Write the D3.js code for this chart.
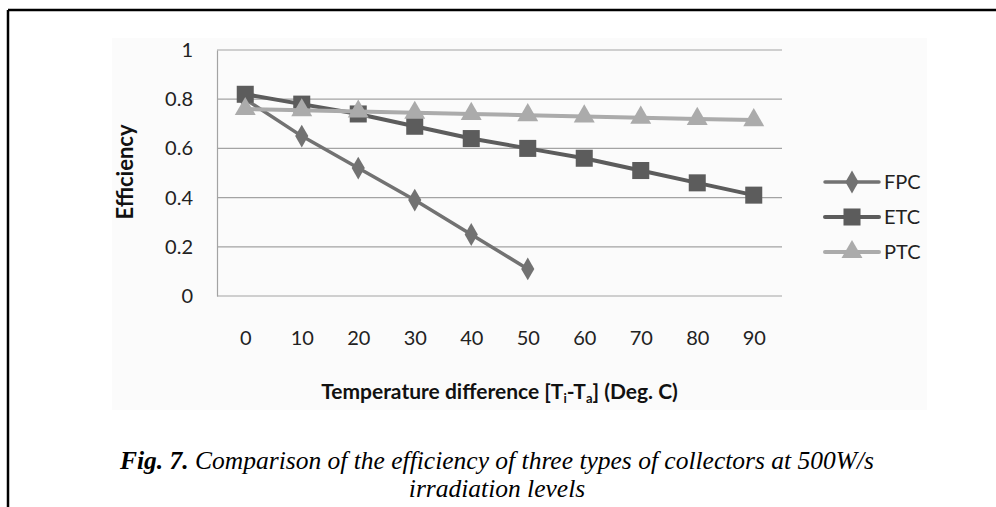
<!DOCTYPE html>
<html>
<head>
<meta charset="utf-8">
<script src="https://cdn.jsdelivr.net/npm/d3@7"></script>
<style>
  html, body { margin: 0; padding: 0; background: #fff; }
  svg { display: block; }
</style>
</head>
<body>
<svg id="chart" width="996" height="507"></svg>
<script>
// ---- data ----
const categories = [0, 10, 20, 30, 40, 50, 60, 70, 80, 90];
const fpcValues = [0.80, 0.65, 0.52, 0.39, 0.25, 0.11];
const etcValues = [0.82, 0.78, 0.74, 0.69, 0.64, 0.60, 0.56, 0.51, 0.46, 0.41];
const ptcValues = [0.76, 0.755, 0.75, 0.745, 0.74, 0.735, 0.73, 0.725, 0.72, 0.715];
const yTicks = [0, 0.2, 0.4, 0.6, 0.8, 1];
const seriesNames = ["FPC", "ETC", "PTC"];

const svg = d3.select("#chart");
const W = 996, H = 507;
const plot = { left: 217, right: 782, top: 50, bottom: 296 };
const sansFont = "Lato, 'Open Sans', 'DejaVu Sans', sans-serif";
const serifFont = "'Liberation Serif', 'DejaVu Serif', serif";

// page frame (top and left rules)
svg.append("line").attr("x1", 8).attr("x2", W).attr("y1", 10).attr("y2", 10)
  .attr("stroke", "#000").attr("stroke-width", 2.5);
svg.append("line").attr("x1", 8).attr("x2", 8).attr("y1", 10).attr("y2", H)
  .attr("stroke", "#000").attr("stroke-width", 2.5);

// chart area background
svg.append("rect").attr("x", 112).attr("y", 38).attr("width", 815).attr("height", 372)
  .attr("fill", "#fbfbfb");

const x = d3.scalePoint().domain(categories).range([plot.left, plot.right]).padding(0.5);
const y = d3.scaleLinear().domain([0, 1]).range([plot.bottom, plot.top]);

// gridlines
svg.append("g").selectAll("line").data(yTicks).join("line")
  .attr("x1", plot.left).attr("x2", plot.right)
  .attr("y1", d => y(d)).attr("y2", d => y(d))
  .attr("stroke", "#a3a3a3").attr("stroke-width", 1.2);

// y axis
const yAxis = d3.axisLeft(y).tickValues(yTicks).tickSize(0).tickPadding(24)
  .tickFormat(d => d3.format("~g")(d));
const gy = svg.append("g").attr("transform", `translate(${plot.left},0)`).call(yAxis);
gy.select(".domain").attr("stroke", "#a3a3a3").attr("stroke-width", 1.2);
gy.selectAll("text").attr("font-family", sansFont).attr("font-size", 20).attr("fill", "#222");

// x axis
const xAxis = d3.axisBottom(x).tickSize(0).tickPadding(35);
const gx = svg.append("g").attr("transform", `translate(0,${plot.bottom})`).call(xAxis);
gx.select(".domain").remove();
gx.selectAll("text").attr("font-family", sansFont).attr("font-size", 20).attr("fill", "#222");

// axis titles
svg.append("text").attr("transform", "translate(133,172) rotate(-90)")
  .attr("text-anchor", "middle").attr("font-family", sansFont).attr("font-weight", "bold")
  .attr("font-size", 22).attr("fill", "#111").text("Efficiency");

const xt = svg.append("text").attr("x", (plot.left + plot.right) / 2).attr("y", 399)
  .attr("text-anchor", "middle").attr("font-family", sansFont).attr("font-weight", "bold")
  .attr("font-size", 21).attr("fill", "#111");
xt.append("tspan").text("Temperature difference [T");
xt.append("tspan").attr("font-size", 13).attr("dy", 4).text("i");
xt.append("tspan").attr("dy", -4).text("-T");
xt.append("tspan").attr("font-size", 13).attr("dy", 4).text("a");
xt.append("tspan").attr("dy", -4).text("] (Deg. C)");

// series
const series = [
  { name: "FPC", values: fpcValues, color: "#727272", width: 3.5, marker: d3.symbolDiamond, size: 150 },
  { name: "ETC", values: etcValues, color: "#5c5c5c", width: 4, marker: d3.symbolSquare, size: 290 },
  { name: "PTC", values: ptcValues, color: "#ababab", width: 4, marker: d3.symbolTriangle, size: 190 }
];

const line = d3.line().x((d, i) => x(categories[i])).y(d => y(d));

series.forEach(s => {
  const g = svg.append("g");
  g.append("path").datum(s.values).attr("d", line)
    .attr("fill", "none").attr("stroke", s.color).attr("stroke-width", s.width)
    .attr("stroke-linejoin", "round");
  g.selectAll("path.m").data(s.values).join("path").attr("class", "m")
    .attr("transform", (d, i) => `translate(${x(categories[i])},${y(d)})`)
    .attr("d", d3.symbol().type(s.marker).size(s.size))
    .attr("fill", s.color);
});

// legend
const legendY = [182, 217, 252];
series.forEach((s, i) => {
  const g = svg.append("g").attr("transform", `translate(825,${legendY[i]})`);
  g.append("line").attr("x1", 0).attr("x2", 54).attr("stroke", s.color)
    .attr("stroke-width", s.width).attr("stroke-linecap", "round");
  g.append("path").attr("transform", "translate(27,0)")
    .attr("d", d3.symbol().type(s.marker).size(s.size)).attr("fill", s.color);
  g.append("text").attr("x", 59).attr("dy", "0.36em").attr("font-family", sansFont)
    .attr("font-size", 20).attr("fill", "#222").text(seriesNames[i]);
});

// caption
const cap = svg.append("text").attr("x", 497).attr("y", 469).attr("text-anchor", "middle")
  .attr("font-family", serifFont).attr("font-style", "italic").attr("font-size", 25.5).attr("fill", "#000");
cap.append("tspan").attr("font-weight", "bold").text("Fig. 7.");
cap.append("tspan").text(" Comparison of the efficiency of three types of collectors at 500W/s");
svg.append("text").attr("x", 497).attr("y", 497).attr("text-anchor", "middle")
  .attr("font-family", serifFont).attr("font-style", "italic").attr("font-size", 25.5).attr("fill", "#000")
  .text("irradiation levels");
</script>
</body>
</html>
